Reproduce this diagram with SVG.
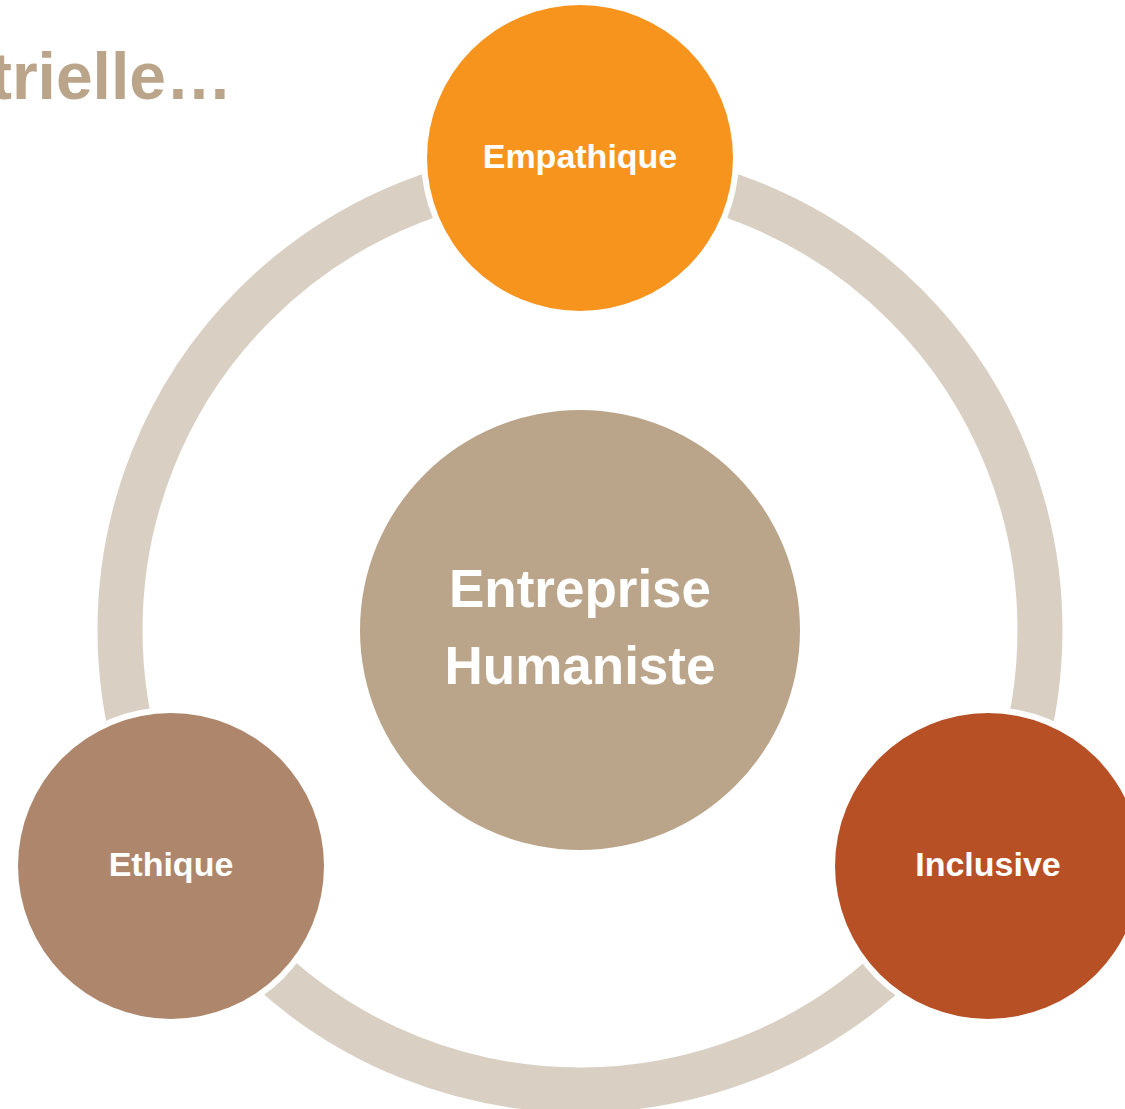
<svg xmlns="http://www.w3.org/2000/svg" width="1125" height="1109" viewBox="0 0 1125 1109">
  <style>
    .lbl { font-family: "Liberation Sans", Arial, sans-serif; font-weight: bold; fill: #FFFFFF; text-anchor: middle; }
    .halo { fill: #FFFFFF; }
    .ring { fill: none; stroke: #D9D0C3; stroke-width: 45; }
  </style>
  <rect x="0" y="0" width="1125" height="1109" fill="#FFFFFF"/>
  <text x="232" y="99" font-family="'Liberation Sans', Arial, sans-serif" font-weight="bold" font-size="66" fill="#BBA58A" text-anchor="end">trielle…</text>
  <g id="connectors">
    <circle class="ring" cx="580" cy="630" r="460"/>
  </g>
  <g id="center">
    <circle cx="580" cy="630" r="220" fill="#BBA58A"/>
    <text class="lbl" x="580" y="607" font-size="53">Entreprise</text>
    <text class="lbl" x="580" y="684" font-size="53">Humaniste</text>
  </g>
  <g id="empathique">
    <circle class="halo" cx="580" cy="158" r="159"/>
    <circle cx="580" cy="158" r="153" fill="#F7941E"/>
    <text class="lbl" x="580" y="168" font-size="34">Empathique</text>
  </g>
  <g id="ethique">
    <circle class="halo" cx="171" cy="866" r="159"/>
    <circle cx="171" cy="866" r="153" fill="#AD866C"/>
    <text class="lbl" x="171" y="876" font-size="34">Ethique</text>
  </g>
  <g id="inclusive">
    <circle class="halo" cx="988" cy="866" r="159"/>
    <circle cx="988" cy="866" r="153" fill="#B85026"/>
    <text class="lbl" x="988" y="876" font-size="34">Inclusive</text>
  </g>
</svg>
